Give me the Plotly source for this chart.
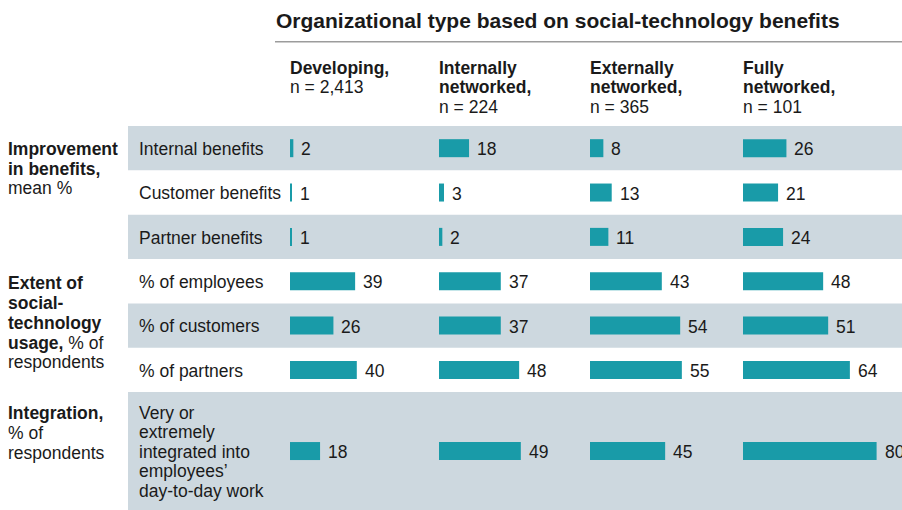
import plotly.graph_objects as go

# ---------------- data ----------------
group_titles = [["Developing,"], ["Internally", "networked,"],
                ["Externally", "networked,"], ["Fully", "networked,"]]
group_n = ["n = 2,413", "n = 224", "n = 365", "n = 101"]

row_labels = ["Internal benefits", "Customer benefits", "Partner benefits",
              "% of employees", "% of customers", "% of partners",
              "Very or<br>extremely<br>integrated into<br>employees’<br>day-to-day work"]

developing = [2, 1, 1, 39, 26, 40, 18]
internally = [18, 3, 2, 37, 37, 48, 49]
externally = [8, 13, 11, 43, 54, 55, 45]
fully = [26, 21, 24, 48, 51, 64, 80]
series = [developing, internally, externally, fully]

section_labels = [
    ["<b>Improvement</b>", "<b>in benefits,</b>", "mean %"],
    ["<b>Extent of</b>", "<b>social-</b>", "<b>technology</b>", "<b>usage,</b> % of", "respondents"],
    ["<b>Integration,</b>", "% of", "respondents"],
]
title_text = "Organizational type based on social-technology benefits"

# ---------------- layout constants ----------------
W, H = 902, 510
FONT = "Liberation Sans, Arial, sans-serif"
FS = 17.5
TXT = "#1a1a1a"
TEAL = "rgb(25,155,168)"
BAND = "rgb(205,216,223)"
TOP = 126.0          # top of table body (px)
PITCH = 44.35        # row pitch (px)
PXU = 1.67           # px per percentage unit
col_start = [290, 439, 590, 743]
col_end = [434, 585, 738, 902]

y_bottom = (H - TOP) / PITCH - 0.5
row_pos = [0, 1, 2, 3, 4, 5, (5.5 + y_bottom) / 2]


def px_x(p):
    return p / W


def px_y(p):
    return 1 - p / H


fig = go.Figure()
layout_axes = {}
for k, vals in enumerate(series):
    ax = "" if k == 0 else str(k + 1)
    fig.add_trace(go.Bar(
        x=vals, y=row_pos, orientation="h", width=18 / PITCH,
        marker=dict(color=TEAL, line=dict(width=0)),
        xaxis="x" + ax, yaxis="y", hoverinfo="skip",
    ))
    layout_axes["xaxis" + ax] = dict(
        domain=[px_x(col_start[k]), px_x(col_end[k])],
        range=[0, (col_end[k] - col_start[k]) / PXU],
        visible=False, anchor="y", fixedrange=True,
    )
    for i, v in enumerate(vals):
        fig.add_annotation(x=v, y=row_pos[i], xref="x" + ax, yref="y",
                           text=str(v), showarrow=False, xanchor="left",
                           yanchor="middle", xshift=8, yshift=-1,
                           borderpad=0, borderwidth=0,
                           font=dict(family=FONT, size=FS, color=TXT))

fig.update_layout(
    width=W, height=H,
    margin=dict(l=0, r=0, t=0, b=0),
    paper_bgcolor="white", plot_bgcolor="rgba(0,0,0,0)",
    showlegend=False,
    yaxis=dict(domain=[0, 1 - TOP / H], range=[y_bottom, -0.5], visible=False,
               fixedrange=True),
    **layout_axes,
)

# background bands
for i in (0, 2, 4):
    fig.add_shape(type="rect", xref="paper", yref="y", x0=px_x(128), x1=1,
                  y0=row_pos[i] - 0.5, y1=row_pos[i] + 0.5,
                  fillcolor=BAND, line=dict(width=0), layer="below")
fig.add_shape(type="rect", xref="paper", yref="y", x0=px_x(128), x1=1,
              y0=5.5, y1=y_bottom, fillcolor=BAND, line=dict(width=0), layer="below")


def text_line(txt, xpx, baseline_px, size=FS, bold=False):
    fig.add_annotation(x=px_x(xpx), y=px_y(baseline_px - 0.35 * size + 1.0),
                       xref="paper", yref="paper", text=("<b>%s</b>" % txt) if bold else txt,
                       showarrow=False, xanchor="left", yanchor="middle",
                       borderpad=0, borderwidth=0,
                       font=dict(family=FONT, size=size, color=TXT))


# title + rule
text_line(title_text, 276, 27.3, size=21, bold=True)
fig.add_shape(type="line", xref="paper", yref="paper", x0=px_x(275), x1=1,
              y0=px_y(41.7), y1=px_y(41.7), line=dict(color="#9c9c9c", width=1.5))

# column headers
LS = 19.5
for k in range(4):
    b = 72.7
    for ln in group_titles[k]:
        text_line(ln, col_start[k], b, bold=True)
        b += LS
    text_line(group_n[k], col_start[k], b)

# row labels
for i, lab in enumerate(row_labels):
    lines = lab.split("<br>")
    center_px = TOP + (row_pos[i] + 0.5) * PITCH
    first = center_px + 6 - (len(lines) - 1) * LS / 2
    for j, ln in enumerate(lines):
        text_line(ln, 139, first + j * LS)

# section labels
sec_first_baseline = [154, 288.3, 418.3]
for s, lines in enumerate(section_labels):
    for j, ln in enumerate(lines):
        text_line(ln, 8, sec_first_baseline[s] + j * 19.8)

fig.write_html("out.html",
               config={"displayModeBar": False},
               post_script="document.body.style.margin='0';"
                           "document.body.style.overflow='hidden';")
